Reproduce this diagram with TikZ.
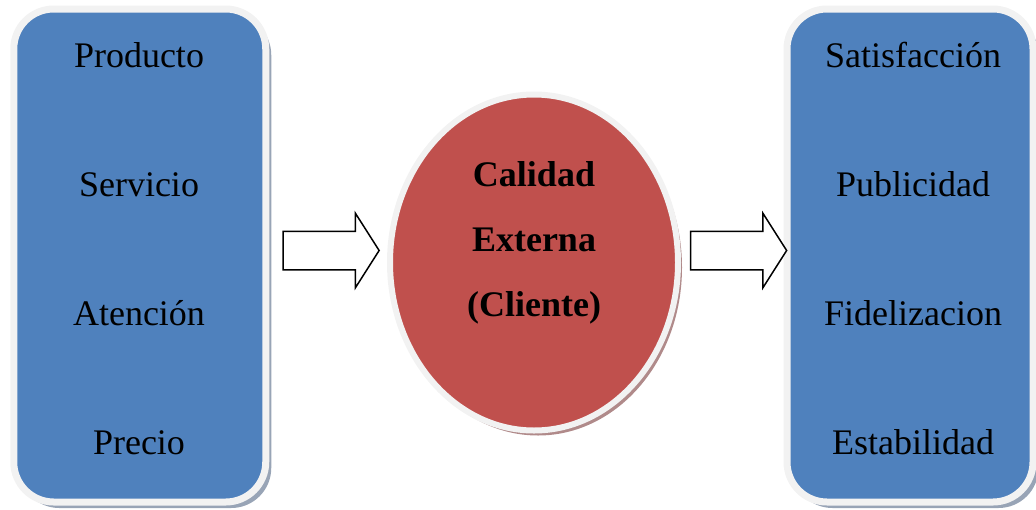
\documentclass[tikz,border=0pt]{standalone}
\usepackage{fontspec}
\setmainfont{Liberation Serif}
\usetikzlibrary{shapes.arrows,shapes.geometric,shadows}
\definecolor{boxblue}{HTML}{4F81BD}
\definecolor{ovalred}{HTML}{C0504D}
\definecolor{rimgray}{HTML}{F2F2F2}
\definecolor{shadeblue}{HTML}{98A4B6}
\definecolor{shadered}{HTML}{B08A8A}

\begin{document}
\begin{tikzpicture}[x=1pt, y=-1pt,
    panel/.style={draw=rimgray, line width=7pt, fill=boxblue, rounded corners=40pt, minimum height=493pt, inner sep=0pt,
        drop shadow={shadow xshift=5.5pt, shadow yshift=-6pt, fill=shadeblue, opacity=1}},
    item/.style={anchor=base, font=\fontsize{36}{43}\selectfont},
    blockarrow/.style={single arrow, draw, line width=1.5pt, fill=white, inner xsep=0pt, inner ysep=18.5pt, minimum height=96pt,
        single arrow head extend=18pt, single arrow tip angle=115}]
    \useasboundingbox (0,0) rectangle (1036,509);

    \node[panel, minimum width=252pt] (factores) at (139.75,255.5) {};
    \node[panel, minimum width=246pt] (efectos) at (910,255.5) {};
    \node[ellipse, draw=rimgray, line width=6pt, fill=ovalred, inner sep=0pt, minimum width=288pt, minimum height=336pt,
        drop shadow={shadow xshift=4pt, shadow yshift=-5pt, fill=shadered, opacity=1}] (calidad) at (534,262.5) {};

    \node[item] (prod) at (139,67) {Producto};
    \node[item] (serv) at (139,196) {Servicio};
    \node[item] (aten) at (139,325) {Atención};
    \node[item] (prec) at (139,454) {Precio};

    \node[item] (satis) at (913,67) {Satisfacción};
    \node[item] (publ) at (913,196) {Publicidad};
    \node[item] (fidel) at (913,325) {Fidelizacion};
    \node[item] (estab) at (913,454) {Estabilidad};

    \node[align=center, font=\fontsize{36}{65}\bfseries] (titulo) at (534,243) {Calidad\\Externa\\(Cliente)};

    \node[blockarrow] (entrada) at (325,250.5) {};
    \node[blockarrow] (salida) at (732.5,250.5) {};
\end{tikzpicture}
\end{document}
